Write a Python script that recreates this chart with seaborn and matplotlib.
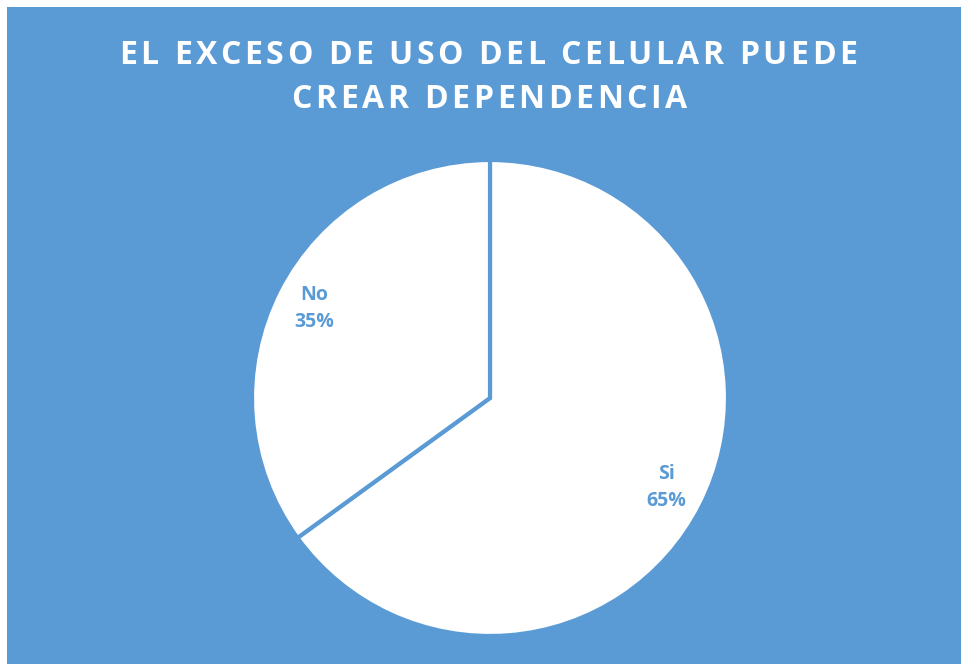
import matplotlib
matplotlib.use("Agg")
import matplotlib.pyplot as plt
import seaborn as sns
from matplotlib.patches import Rectangle

sns.set_style("white")
plt.rcParams['font.family'] = ['Open Sans', 'DejaVu Sans']

categories = ["Si", "No"]
values = [65, 35]
title_lines = ["EL EXCESO DE USO DEL CELULAR PUEDE", "CREAR DEPENDENCIA"]

BLUE = "#5B9BD5"
W, H = 961, 664
fig = plt.figure(figsize=(W / 100, H / 100), dpi=100)
fig.patch.set_facecolor("white")
fig.add_artist(Rectangle((7 / W, 0), 1 - 7 / W, 1 - 7 / H, transform=fig.transFigure,
                         facecolor=BLUE, edgecolor="none", zorder=0))

cx, cy, r = 490, H - 398, 238
ax = fig.add_axes([(cx - r) / W, (cy - r) / H, 2 * r / W, 2 * r / H])
ax.set_facecolor("none")
labels = [f"{c}\n{v}%" for c, v in zip(categories, values)]
wedges, texts = ax.pie(values, labels=labels, startangle=90, counterclock=False,
                       colors=["white", "white"], labeldistance=0.83,
                       wedgeprops=dict(edgecolor=BLUE, linewidth=3),
                       textprops=dict(color=BLUE, fontsize=14, fontweight="bold",
                                      ha="center", va="center", linespacing=1.5))
ax.set_xlim(-1, 1)
ax.set_ylim(-1, 1)
ax.set_aspect("equal")
ax.axis("off")

renderer = fig.canvas.get_renderer()


def tracked_text(xc, yc, s, tracking, **kw):
    widths = []
    for ch in s:
        if ch == " ":
            t = fig.text(0, 0, "a a", **kw)
            w_full = t.get_window_extent(renderer).width
            t.remove()
            t = fig.text(0, 0, "aa", **kw)
            w_nosp = t.get_window_extent(renderer).width
            t.remove()
            widths.append(w_full - w_nosp)
        else:
            t = fig.text(0, 0, ch, **kw)
            widths.append(t.get_window_extent(renderer).width)
            t.remove()
    total = sum(widths) + tracking * (len(s) - 1)
    x = xc - total / 2
    for ch, w in zip(s, widths):
        if ch != " ":
            fig.text(x / W, yc / H, ch, ha="left", va="center", **kw)
        x += w + tracking


tkw = dict(color="white", fontsize=23, fontweight="bold")
tracked_text(488, H - 55, title_lines[0], 3.5, **tkw)
tracked_text(489, H - 100, title_lines[1], 3.6, **tkw)

fig.savefig("out.png", dpi=100)
